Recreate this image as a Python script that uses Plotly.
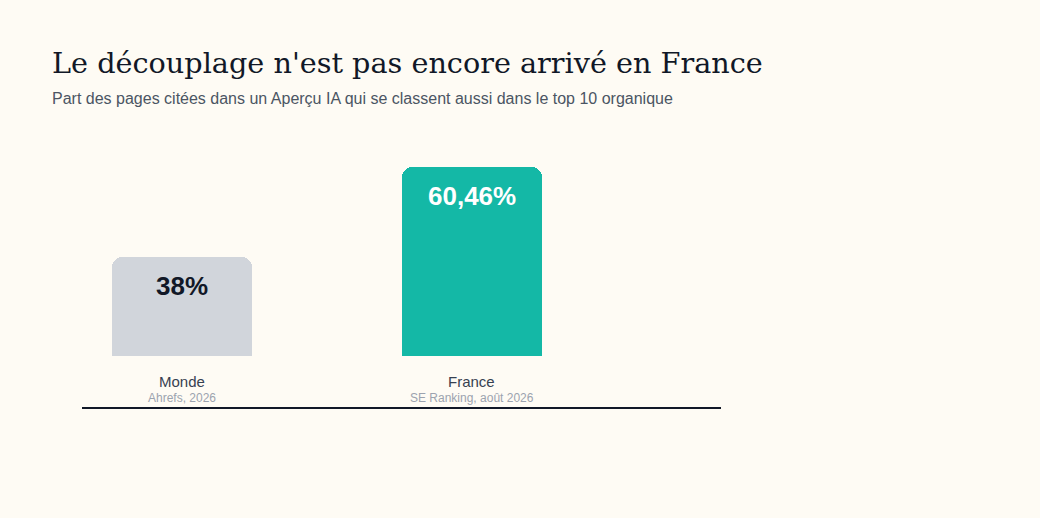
import plotly.graph_objects as go

categories = ["Monde", "France"]
sources = ["Ahrefs, 2026", "SE Ranking, août 2026"]
values = [38, 60.46]
value_labels = ["38%", "60,46%"]
bar_colors = ["#d1d5db", "#14b8a6"]
label_colors = ["#111827", "#ffffff"]

title = "Le découplage n'est pas encore arrivé en France"
subtitle = "Part des pages citées dans un Aperçu IA qui se classent aussi dans le top 10 organique"

BG = "#fefbf4"
SANS = "Liberation Sans, Arial, sans-serif"

# plot area in pixels (used to place the header / footer texts)
W, H = 1040, 518
L, R, T, B = 82, 319, 130, 162
PW, PH = W - L - R, H - T - B


def px_x(x):
    return (x - L) / PW


def px_y(y):
    return (H - B - y) / PH


fig = go.Figure()

fig.add_trace(
    go.Bar(
        x=list(range(len(categories))),
        y=values,
        width=0.483,
        marker=dict(color=bar_colors, line=dict(width=0), cornerradius=10),
        hoverinfo="skip",
        showlegend=False,
    )
)

# value labels inside bars, near the top
for i, (v, lab) in enumerate(zip(values, value_labels)):
    fig.add_annotation(
        x=i, y=v, xref="x", yref="y",
        text="<b>" + lab + "</b>",
        showarrow=False,
        yanchor="middle",
        yshift=-29,
        font=dict(family=SANS, size=26, color=label_colors[i]),
    )

# category names and sources under the bars
for i, (cat, src) in enumerate(zip(categories, sources)):
    fig.add_annotation(
        x=i, y=px_y(381), xref="x", yref="paper",
        text=cat, showarrow=False, yanchor="middle",
        font=dict(family=SANS, size=15, color="#374151"),
    )
    fig.add_annotation(
        x=i, y=px_y(398), xref="x", yref="paper",
        text=src, showarrow=False, yanchor="middle",
        font=dict(family=SANS, size=12, color="#9ca3af"),
    )

# baseline under the labels
fig.add_shape(
    type="line", xref="paper", yref="paper",
    x0=0, x1=1, y0=px_y(408), y1=px_y(408),
    line=dict(color="#111827", width=2),
)

# title + subtitle
fig.add_annotation(
    x=px_x(50), y=px_y(63), xref="paper", yref="paper", showarrow=False,
    text=title, xanchor="left", yanchor="middle",
    font=dict(family="DejaVu Serif, Georgia, serif", size=28.7, color="#111827"),
)
fig.add_annotation(
    x=px_x(50), y=px_y(99), xref="paper", yref="paper", showarrow=False,
    text=subtitle, xanchor="left", yanchor="middle",
    font=dict(family=SANS, size=16, color="#4b5563"),
)

fig.update_layout(
    width=W,
    height=H,
    paper_bgcolor=BG,
    plot_bgcolor=BG,
    margin=dict(l=L, r=R, t=T, b=B),
    xaxis=dict(
        range=[-0.345, 1.859],
        showgrid=False, zeroline=False, showline=False,
        showticklabels=False, fixedrange=True,
    ),
    yaxis=dict(
        range=[13.3, 69.7],
        showgrid=False, zeroline=False, showline=False,
        showticklabels=False, fixedrange=True,
    ),
    bargap=0,
)

fig.write_html(
    "out.html",
    config={"displayModeBar": False},
    post_script="document.body.style.margin='0';document.body.style.background='" + BG + "';",
)
